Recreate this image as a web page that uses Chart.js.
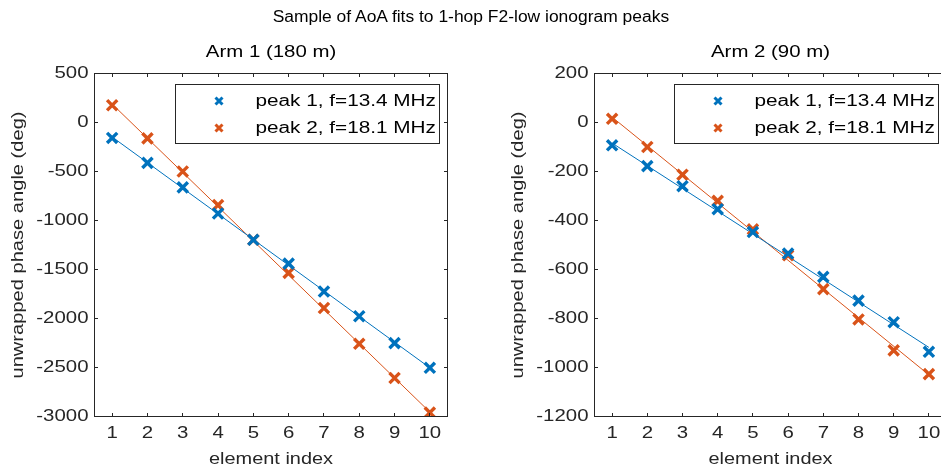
<!DOCTYPE html>
<html><head><meta charset="utf-8">
<script src="https://cdn.jsdelivr.net/npm/chart.js@4/dist/chart.umd.min.js"></script>
<style>
html,body{margin:0;padding:0;background:#fff;overflow:hidden;width:941px;height:473px}
#title{position:absolute;left:0;top:0;width:941px;text-align:center;font:16px "Liberation Sans",Arial,sans-serif;color:#000;line-height:20px;padding-top:7px}
#title span{display:inline-block;transform:scaleX(1.09)}
#c1{position:absolute;left:0;top:0}
#c2{position:absolute;left:470px;top:0}
</style></head><body>
<canvas id="c1" width="470" height="473"></canvas>
<canvas id="c2" width="490" height="473"></canvas>
<div id="title"><span>Sample of AoA fits to 1-hop F2-low ionogram peaks</span></div>
<script>
// ---- data ----
const ELEMENT_INDEX = [1, 2, 3, 4, 5, 6, 7, 8, 9, 10];
const X_TICKS = [1, 2, 3, 4, 5, 6, 7, 8, 9, 10];
const X_LIMITS = [0.5, 10.5];
const SERIES_LABELS = ['peak 1, f=13.4 MHz', 'peak 2, f=18.1 MHz'];

const ARM1_PEAK1 = [-158, -412, -662, -929, -1197, -1440, -1725, -1977, -2251, -2503];
const ARM1_PEAK2 = [176, -162, -500, -842, -1197, -1534, -1893, -2258, -2607, -2960];
const ARM2_PEAK1 = [-93, -178, -260, -354, -447, -535, -630, -727, -815, -936];
const ARM2_PEAK2 = [15, -100, -213, -320, -436, -542, -680, -804, -930, -1027];

const FIT_X = [1, 10];
const ARM1_FIT1 = [-148, -2503];
const ARM1_FIT2 = [188, -2955];
const ARM2_FIT1 = [-84, -918];
const ARM2_FIT2 = [22, -1030];

const ARM1_Y_TICKS = [500, 0, -500, -1000, -1500, -2000, -2500, -3000];
const ARM2_Y_TICKS = [200, 0, -200, -400, -600, -800, -1000, -1200];

// ---- style ----
const BLUE = '#0072BD';
const ORANGE = '#D95319';
const AXIS = '#262626';
const FONT = '"Liberation Sans", Arial, sans-serif';
const TEXT_SX = 1.2;

// wide text rendering like the reference
const _fill = CanvasRenderingContext2D.prototype.fillText;
CanvasRenderingContext2D.prototype.fillText = function (t, x, y, mw) {
  this.save();
  this.translate(x, y);
  this.scale(TEXT_SX, 1);
  if (mw === undefined || mw === null) _fill.call(this, t, 0, 0);
  else _fill.call(this, t, 0, 0, mw / TEXT_SX);
  this.restore();
};

Chart.defaults.font.family = FONT;

const subTitle = {
  id: 'subTitle',
  afterDraw(chart, args, opts) {
    const { ctx, chartArea: a } = chart;
    ctx.save();
    ctx.fillStyle = '#000';
    ctx.font = '17px ' + FONT;
    ctx.textAlign = 'center';
    ctx.textBaseline = 'middle';
    ctx.fillText(opts.text, (a.left + a.right) / 2, a.top - 21);
    ctx.restore();
  }
};

const matlabAxes = {
  id: 'matlabAxes',
  afterDatasetsDraw(chart) {
    const { ctx, chartArea: a, scales: { x, y } } = chart;
    const TL = 3.5;
    ctx.save();
    ctx.strokeStyle = AXIS;
    ctx.lineWidth = 1;
    ctx.beginPath();
    x.ticks.forEach(t => {
      const p = Math.round(x.getPixelForValue(t.value) - 0.5) + 0.5;
      ctx.moveTo(p, a.bottom); ctx.lineTo(p, a.bottom - TL);
      ctx.moveTo(p, a.top); ctx.lineTo(p, a.top + TL);
    });
    y.ticks.forEach(t => {
      const p = Math.round(y.getPixelForValue(t.value) - 0.5) + 0.5;
      ctx.moveTo(a.left, p); ctx.lineTo(a.left + TL, p);
      ctx.moveTo(a.right, p); ctx.lineTo(a.right - TL, p);
    });
    ctx.stroke();
    ctx.strokeRect(a.left, a.top, a.right - a.left, a.bottom - a.top);
    ctx.restore();
  }
};

const boxLegend = {
  id: 'boxLegend',
  afterDraw(chart) {
    const { ctx, chartArea: a } = chart;
    const items = chart.data.datasets.filter(d => !d.isFit);
    const W = 264, H = 59;
    const right = a.right - 8;
    const left = right - W;
    const top = a.top + 11;
    ctx.save();
    ctx.fillStyle = '#fff';
    ctx.fillRect(left, top, W, H);
    ctx.strokeStyle = AXIS;
    ctx.lineWidth = 1;
    ctx.strokeRect(left, top, W, H);
    items.forEach((d, i) => {
      const cy = top + 16.5 + i * 27;
      const mx = left + 43.5;
      const r = 3.5;
      ctx.strokeStyle = d.borderColor;
      ctx.lineWidth = 3;
      ctx.beginPath();
      ctx.moveTo(mx - r, cy - r); ctx.lineTo(mx + r, cy + r);
      ctx.moveTo(mx + r, cy - r); ctx.lineTo(mx - r, cy + r);
      ctx.stroke();
      ctx.fillStyle = '#000';
      ctx.font = '17.3px ' + FONT;
      ctx.textBaseline = 'middle';
      ctx.textAlign = 'left';
      ctx.fillText(d.label, left + 80, cy);
    });
    ctx.restore();
  }
};

function pts(xs, ys) { return xs.map((x, i) => ({ x, y: ys[i] })); }

function makeChart(id, title, p1, p2, f1, f2, yTicks, padLeft, padRight) {
  return new Chart(document.getElementById(id), {
    type: 'scatter',
    data: {
      datasets: [
        { label: SERIES_LABELS[0], data: pts(ELEMENT_INDEX, p1), pointStyle: 'crossRot', pointRadius: 7.2,
          pointBorderWidth: 3.4, borderColor: BLUE, backgroundColor: BLUE, showLine: false },
        { label: SERIES_LABELS[1], data: pts(ELEMENT_INDEX, p2), pointStyle: 'crossRot', pointRadius: 7.2,
          pointBorderWidth: 3.4, borderColor: ORANGE, backgroundColor: ORANGE, showLine: false },
        { label: 'fit 1', isFit: true, data: pts(FIT_X, f1), showLine: true, pointRadius: 0,
          borderColor: BLUE, borderWidth: 1 },
        { label: 'fit 2', isFit: true, data: pts(FIT_X, f2), showLine: true, pointRadius: 0,
          borderColor: ORANGE, borderWidth: 1 }
      ]
    },
    options: {
      responsive: false,
      animation: false,
      devicePixelRatio: 1,
      events: [],
      layout: { padding: { top: 73.5, left: padLeft, right: padRight, bottom: 0 } },
      plugins: {
        legend: { display: false },
        tooltip: { enabled: false },
        title: { display: false },
        subTitle: { text: title }
      },
      scales: {
        x: {
          type: 'linear', min: X_LIMITS[0], max: X_LIMITS[1],
          afterBuildTicks: s => { s.ticks = X_TICKS.map(v => ({ value: v })); },
          afterFit: s => { s.height = 56.5; },
          grid: { display: false, drawTicks: false },
          border: { display: false },
          ticks: { autoSkip: false, maxRotation: 0, padding: 7, color: AXIS, font: { size: 17 },
            callback: v => String(v) },
          title: { display: true, text: 'element index', color: AXIS, font: { size: 16.6 },
            padding: { top: 0, bottom: 3.5 } }
        },
        y: {
          type: 'linear', min: Math.min(...yTicks), max: Math.max(...yTicks),
          afterBuildTicks: s => { s.ticks = yTicks.map(v => ({ value: v })); },
          afterFit: s => { s.width = 94.5; },
          grid: { display: false, drawTicks: false },
          border: { display: false },
          ticks: { autoSkip: false, padding: 6, color: AXIS, font: { size: 17 },
            callback: v => String(v) },
          title: { display: true, text: 'unwrapped phase angle (deg)', color: AXIS, font: { size: 16.75 },
            padding: { top: 8, bottom: 0 } }
        }
      }
    },
    plugins: [subTitle, matlabAxes, boxLegend]
  });
}

makeChart('c1', 'Arm 1 (180 m)', ARM1_PEAK1, ARM1_PEAK2, ARM1_FIT1, ARM1_FIT2, ARM1_Y_TICKS, 0, 22.5);
makeChart('c2', 'Arm 2 (90 m)', ARM2_PEAK1, ARM2_PEAK2, ARM2_FIT1, ARM2_FIT2, ARM2_Y_TICKS, 30, 13.5);
</script>
</body></html>
